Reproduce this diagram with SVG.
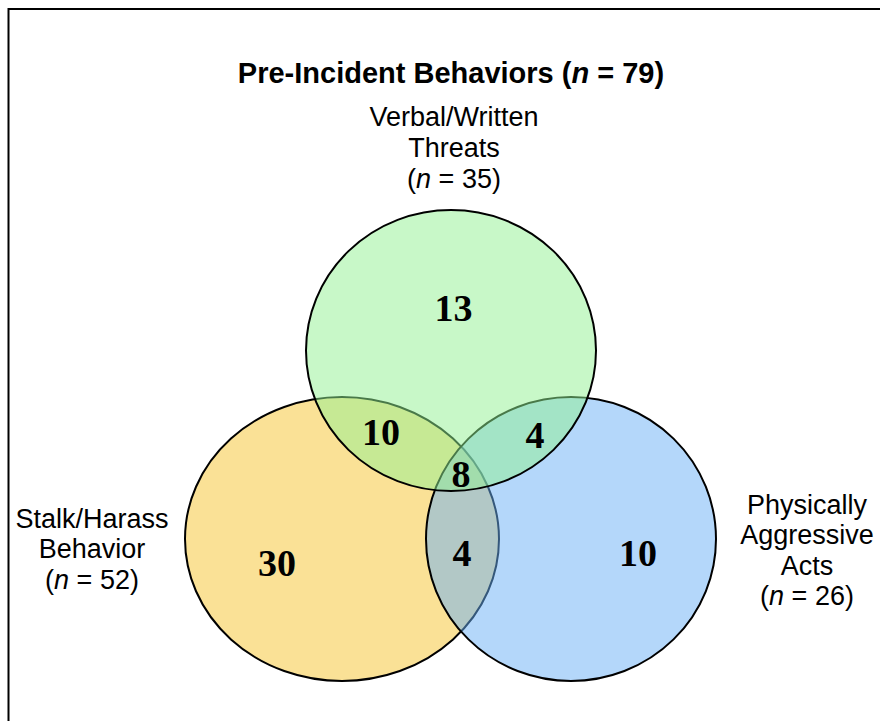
<svg xmlns="http://www.w3.org/2000/svg" width="880" height="721" viewBox="0 0 880 721">
<style>
.set{stroke:#000;stroke-width:2;fill-opacity:0.5}
.lbl{font-family:"Liberation Sans",Arial,sans-serif;font-size:27px;fill:#000;text-anchor:middle}
.num{font-family:"Liberation Serif","Times New Roman",serif;font-size:38px;font-weight:bold;fill:#000;text-anchor:middle}
.ttl{font-family:"Liberation Sans",Arial,sans-serif;font-size:29px;font-weight:bold;fill:#000;text-anchor:middle}
.it{font-style:italic}
</style>
<rect x="0" y="0" width="880" height="721" fill="#fff"/>
<rect id="frame" x="8.5" y="9" width="900" height="800" fill="none" stroke="#000" stroke-width="2"/>
<text id="title" class="ttl" x="451" y="83">Pre-Incident Behaviors (<tspan class="it">n</tspan> = 79)</text>
<g id="stalk">
<ellipse class="set" cx="342" cy="539" rx="157" ry="142" fill="#f5c32d"/>
</g>
<g id="physical">
<ellipse class="set" cx="571" cy="539" rx="145" ry="142" fill="#69aff5"/>
</g>
<g id="verbal">
<ellipse class="set" cx="451" cy="350.5" rx="145" ry="140.5" fill="#91f191"/>
</g>
<g id="connectors"/>
<g id="labels">
<text class="lbl" x="454" y="126">Verbal/Written</text>
<text class="lbl" x="454" y="157">Threats</text>
<text class="lbl" x="454" y="188">(<tspan class="it">n</tspan> = 35)</text>
<text class="lbl" x="92" y="528">Stalk/Harass</text>
<text class="lbl" x="92" y="558">Behavior</text>
<text class="lbl" x="92" y="588.5">(<tspan class="it">n</tspan> = 52)</text>
<text class="lbl" x="807" y="514">Physically</text>
<text class="lbl" x="807" y="544">Aggressive</text>
<text class="lbl" x="807" y="574.5">Acts</text>
<text class="lbl" x="807" y="604.5">(<tspan class="it">n</tspan> = 26)</text>
</g>
<g id="counts">
<text class="num" x="453.5" y="320.5">13</text>
<text class="num" x="381" y="445">10</text>
<text class="num" x="535" y="448">4</text>
<text class="num" x="461" y="487">8</text>
<text class="num" x="277" y="576">30</text>
<text class="num" x="462" y="566">4</text>
<text class="num" x="638" y="566">10</text>
</g>
</svg>
